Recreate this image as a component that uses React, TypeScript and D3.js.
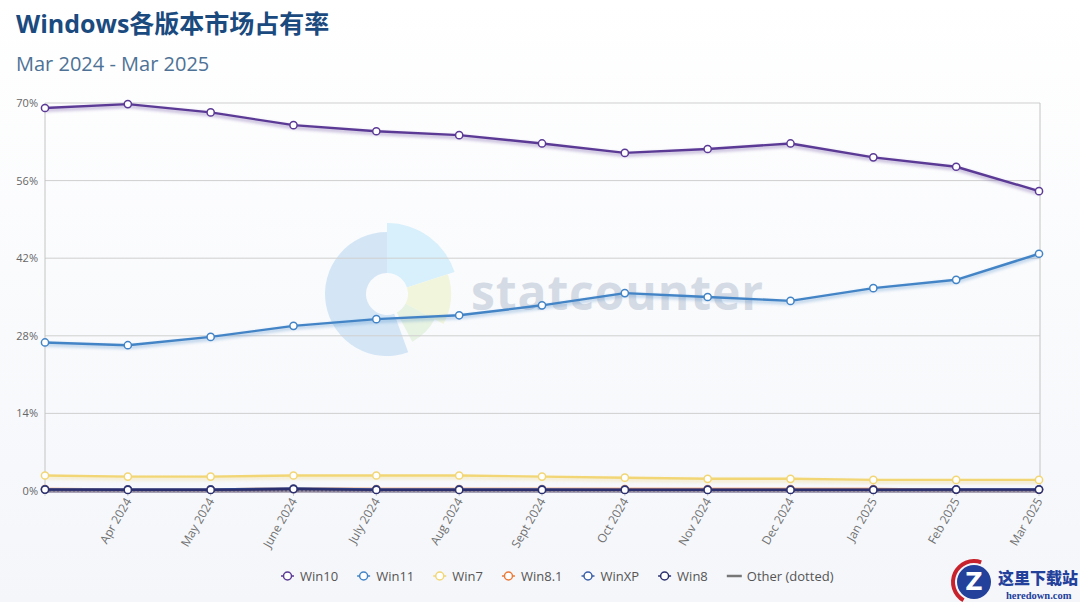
import React, { useRef, useEffect } from 'react';
import * as d3 from 'd3';

const months = ['Mar 2024', 'Apr 2024', 'May 2024', 'June 2024', 'July 2024', 'Aug 2024', 'Sept 2024', 'Oct 2024', 'Nov 2024', 'Dec 2024', 'Jan 2025', 'Feb 2025', 'Mar 2025'];
// the first month has no label on the axis
const tickLabels = ['', 'Apr 2024', 'May 2024', 'June 2024', 'July 2024', 'Aug 2024', 'Sept 2024', 'Oct 2024', 'Nov 2024', 'Dec 2024', 'Jan 2025', 'Feb 2025', 'Mar 2025'];
const yTicks = [0, 14, 28, 42, 56, 70];

const win10 = [69.1, 69.8, 68.3, 66.0, 64.9, 64.2, 62.7, 61.0, 61.7, 62.7, 60.2, 58.5, 54.1];
const win11 = [26.8, 26.3, 27.8, 29.8, 31.0, 31.7, 33.5, 35.7, 35.0, 34.3, 36.6, 38.1, 42.8];
const win7 = [2.8, 2.6, 2.6, 2.8, 2.8, 2.8, 2.6, 2.4, 2.2, 2.2, 2.0, 2.0, 2.0];
const win81 = [0.35, 0.3, 0.3, 0.4, 0.35, 0.35, 0.35, 0.35, 0.35, 0.35, 0.35, 0.25, 0.25];
const winXP = [0.3, 0.3, 0.3, 0.45, 0.3, 0.3, 0.3, 0.25, 0.25, 0.25, 0.25, 0.3, 0.3];
const win8 = [0.25, 0.2, 0.2, 0.35, 0.2, 0.2, 0.2, 0.2, 0.2, 0.2, 0.2, 0.25, 0.25];
const other = [0.1, 0.1, 0.1, 0.1, 0.1, 0.1, 0.1, 0.1, 0.1, 0.1, 0.1, 0.1, 0.1];

const seriesNames = ['Win10', 'Win11', 'Win7', 'Win8.1', 'WinXP', 'Win8'];
const seriesValues = [win10, win11, win7, win81, winXP, win8];
const seriesColors = ['#5b3a96', '#4384c6', '#f2d675', '#ea7a3a', '#3a5ea8', '#2b2f6e'];

const App: React.FC = () => {
  const chartRef = useRef<SVGSVGElement | null>(null);

  useEffect(() => {
    document.body.style.margin = '0';
    if (!chartRef.current) return;
    const svg = d3.select(chartRef.current);
    svg.selectAll('*').remove();

    const W = 1080;
    const H = 602;
    const margin = { top: 103, right: 40, bottom: 111, left: 45 };
    const font = '"Open Sans", "Noto Sans", sans-serif';

    const defs = svg.append('defs');
    const bg = defs.append('linearGradient').attr('id', 'bg').attr('x1', '0').attr('y1', '0').attr('x2', '0').attr('y2', '1');
    bg.append('stop').attr('offset', '0%').attr('stop-color', '#ffffff');
    bg.append('stop').attr('offset', '100%').attr('stop-color', '#f4f6fa');
    defs.append('filter').attr('id', 'glow').attr('x', '-5%').attr('y', '-50%').attr('width', '110%').attr('height', '200%')
      .append('feGaussianBlur').attr('stdDeviation', 1.8);

    svg.append('rect').attr('width', W).attr('height', H).attr('fill', 'url(#bg)');

    // title
    svg.append('text').attr('x', 16).attr('y', 33)
      .attr('font-family', '"Open Sans", "Noto Sans CJK SC", sans-serif')
      .attr('font-weight', 700).attr('font-size', 25).attr('fill', '#1a4a7e')
      .text('Windows各版本市场占有率');
    svg.append('text').attr('x', 16).attr('y', 71)
      .attr('font-family', font).attr('font-size', 20).attr('fill', '#4d7296')
      .text('Mar 2024 - Mar 2025');

    const x = d3.scalePoint<string>().domain(months).range([margin.left, W - margin.right - 1]);
    const y = d3.scaleLinear().domain([0, 70]).range([H - margin.bottom, margin.top]);

    // statcounter watermark
    const wm = svg.append('g').attr('transform', 'translate(387,294)');
    const arc = d3.arc<any>();
    const deg = Math.PI / 180;
    const slices = [
      { s: 160, e: 360, r: 62, c: '#d4e6f6' },
      { s: 0, e: 72, r: 71, c: '#d8f0fb' },
      { s: 72, e: 118, r: 64, c: '#f1f5dc' },
      { s: 118, e: 152, r: 54, c: '#e6f2e2' },
    ];
    slices.forEach((sl) => {
      wm.append('path')
        .attr('d', arc({ innerRadius: 21, outerRadius: sl.r, startAngle: sl.s * deg, endAngle: sl.e * deg }) as string)
        .attr('fill', sl.c);
    });
    svg.append('text').attr('x', 471).attr('y', 310)
      .attr('font-family', font).attr('font-weight', 700).attr('font-size', 48)
      .attr('letter-spacing', 0.9).attr('fill', '#d5dbe5').text('statcounter');

    // grid
    svg.append('g').selectAll('line').data(yTicks).enter().append('line')
      .attr('x1', margin.left).attr('x2', W - margin.right)
      .attr('y1', (d) => y(d)).attr('y2', (d) => y(d))
      .attr('stroke', '#cfcfcf').attr('stroke-width', 1);
    svg.append('line').attr('x1', margin.left).attr('x2', margin.left).attr('y1', y(70)).attr('y2', y(0)).attr('stroke', '#c4c4c4');
    svg.append('line').attr('x1', W - margin.right).attr('x2', W - margin.right).attr('y1', y(70)).attr('y2', y(0)).attr('stroke', '#c4c4c4');

    svg.append('g').selectAll('text').data(yTicks).enter().append('text')
      .attr('x', 38).attr('y', (d) => y(d) + 4).attr('text-anchor', 'end')
      .attr('font-family', font).attr('font-size', 11).attr('fill', '#666')
      .text((d) => `${d}%`);

    // x ticks + labels
    const xg = svg.append('g');
    xg.selectAll('line').data(months).enter().append('line')
      .attr('x1', (d) => x(d) as number).attr('x2', (d) => x(d) as number)
      .attr('y1', y(0)).attr('y2', y(0) + 5).attr('stroke', '#cfcfcf');
    xg.selectAll('text').data(months).enter().append('text')
      .attr('transform', (d) => `translate(${(x(d) as number) + 4},${y(0) + 10}) rotate(-60)`)
      .attr('text-anchor', 'end').attr('font-family', font).attr('font-size', 12).attr('fill', '#707070')
      .text((d, i) => tickLabels[i]);

    const line = d3.line<number>().x((d, i) => x(months[i]) as number).y((d) => y(d));

    // other (dotted)
    svg.append('path').attr('d', line(other) as string).attr('fill', 'none')
      .attr('stroke', '#777').attr('stroke-width', 2).attr('stroke-dasharray', '2,2');

    seriesValues.forEach((vals, k) => {
      const g = svg.append('g');
      const c = seriesColors[k];
      g.append('path').attr('d', line(vals) as string).attr('fill', 'none')
        .attr('stroke', c).attr('stroke-width', 4).attr('opacity', 0.3)
        .attr('transform', 'translate(0,2)').attr('filter', 'url(#glow)');
      g.append('path').attr('d', line(vals) as string).attr('fill', 'none')
        .attr('stroke', c).attr('stroke-width', 2.4).attr('stroke-linejoin', 'round');
      g.selectAll('circle').data(vals).enter().append('circle')
        .attr('cx', (d, i) => x(months[i]) as number).attr('cy', (d) => y(d))
        .attr('r', 3.6).attr('fill', '#fff').attr('stroke', c).attr('stroke-width', 1.5);
    });

    // legend
    const legend = svg.append('g').attr('transform', 'translate(281,576)');
    let lx = 0;
    const items = [...seriesNames.map((n, i) => ({ n, c: seriesColors[i], dot: true })), { n: 'Other (dotted)', c: '#777', dot: false }];
    items.forEach((it) => {
      const g = legend.append('g').attr('transform', `translate(${lx},0)`);
      if (it.dot) {
        g.append('line').attr('x1', 0).attr('x2', 13).attr('y1', 0).attr('y2', 0).attr('stroke', it.c).attr('stroke-width', 1.5);
        g.append('circle').attr('cx', 6.5).attr('cy', 0).attr('r', 4).attr('fill', '#fff').attr('stroke', it.c).attr('stroke-width', 1.5);
      } else {
        g.append('line').attr('x1', 0).attr('x2', 15).attr('y1', 0).attr('y2', 0).attr('stroke', it.c).attr('stroke-width', 2.5);
      }
      const tx = it.dot ? 19 : 20;
      const t = g.append('text').attr('x', tx).attr('y', 4.5)
        .attr('font-family', font).attr('font-size', 13).attr('fill', '#555').text(it.n);
      const w = (t.node() as SVGTextElement).getComputedTextLength();
      lx += tx + w + 19;
    });

    // site watermark, bottom right
    const hw = svg.append('g').attr('transform', 'translate(974,582)');
    hw.append('path').attr('d', arc({ innerRadius: 19, outerRadius: 23, startAngle: -150 * deg, endAngle: 20 * deg }) as string)
      .attr('fill', '#c8232c');
    hw.append('circle').attr('r', 17).attr('fill', '#23409a');
    hw.append('text').attr('x', 0).attr('y', 8).attr('text-anchor', 'middle')
      .attr('font-family', 'DejaVu Sans, sans-serif').attr('font-weight', 700).attr('font-size', 24).attr('fill', '#fff').text('Z');
    svg.append('text').attr('x', 998).attr('y', 584)
      .attr('font-family', '"Noto Sans CJK SC", sans-serif').attr('font-weight', 900).attr('font-size', 16).attr('fill', '#23409a')
      .text('这里下载站');
    svg.append('text').attr('x', 1006).attr('y', 599)
      .attr('font-family', '"Liberation Serif", serif').attr('font-weight', 700).attr('font-size', 10.5).attr('fill', '#23409a')
      .text('heredown.com');
  }, []);

  return <svg ref={chartRef} width={1080} height={602} style={{ display: 'block' }}></svg>;
};

export default App;
